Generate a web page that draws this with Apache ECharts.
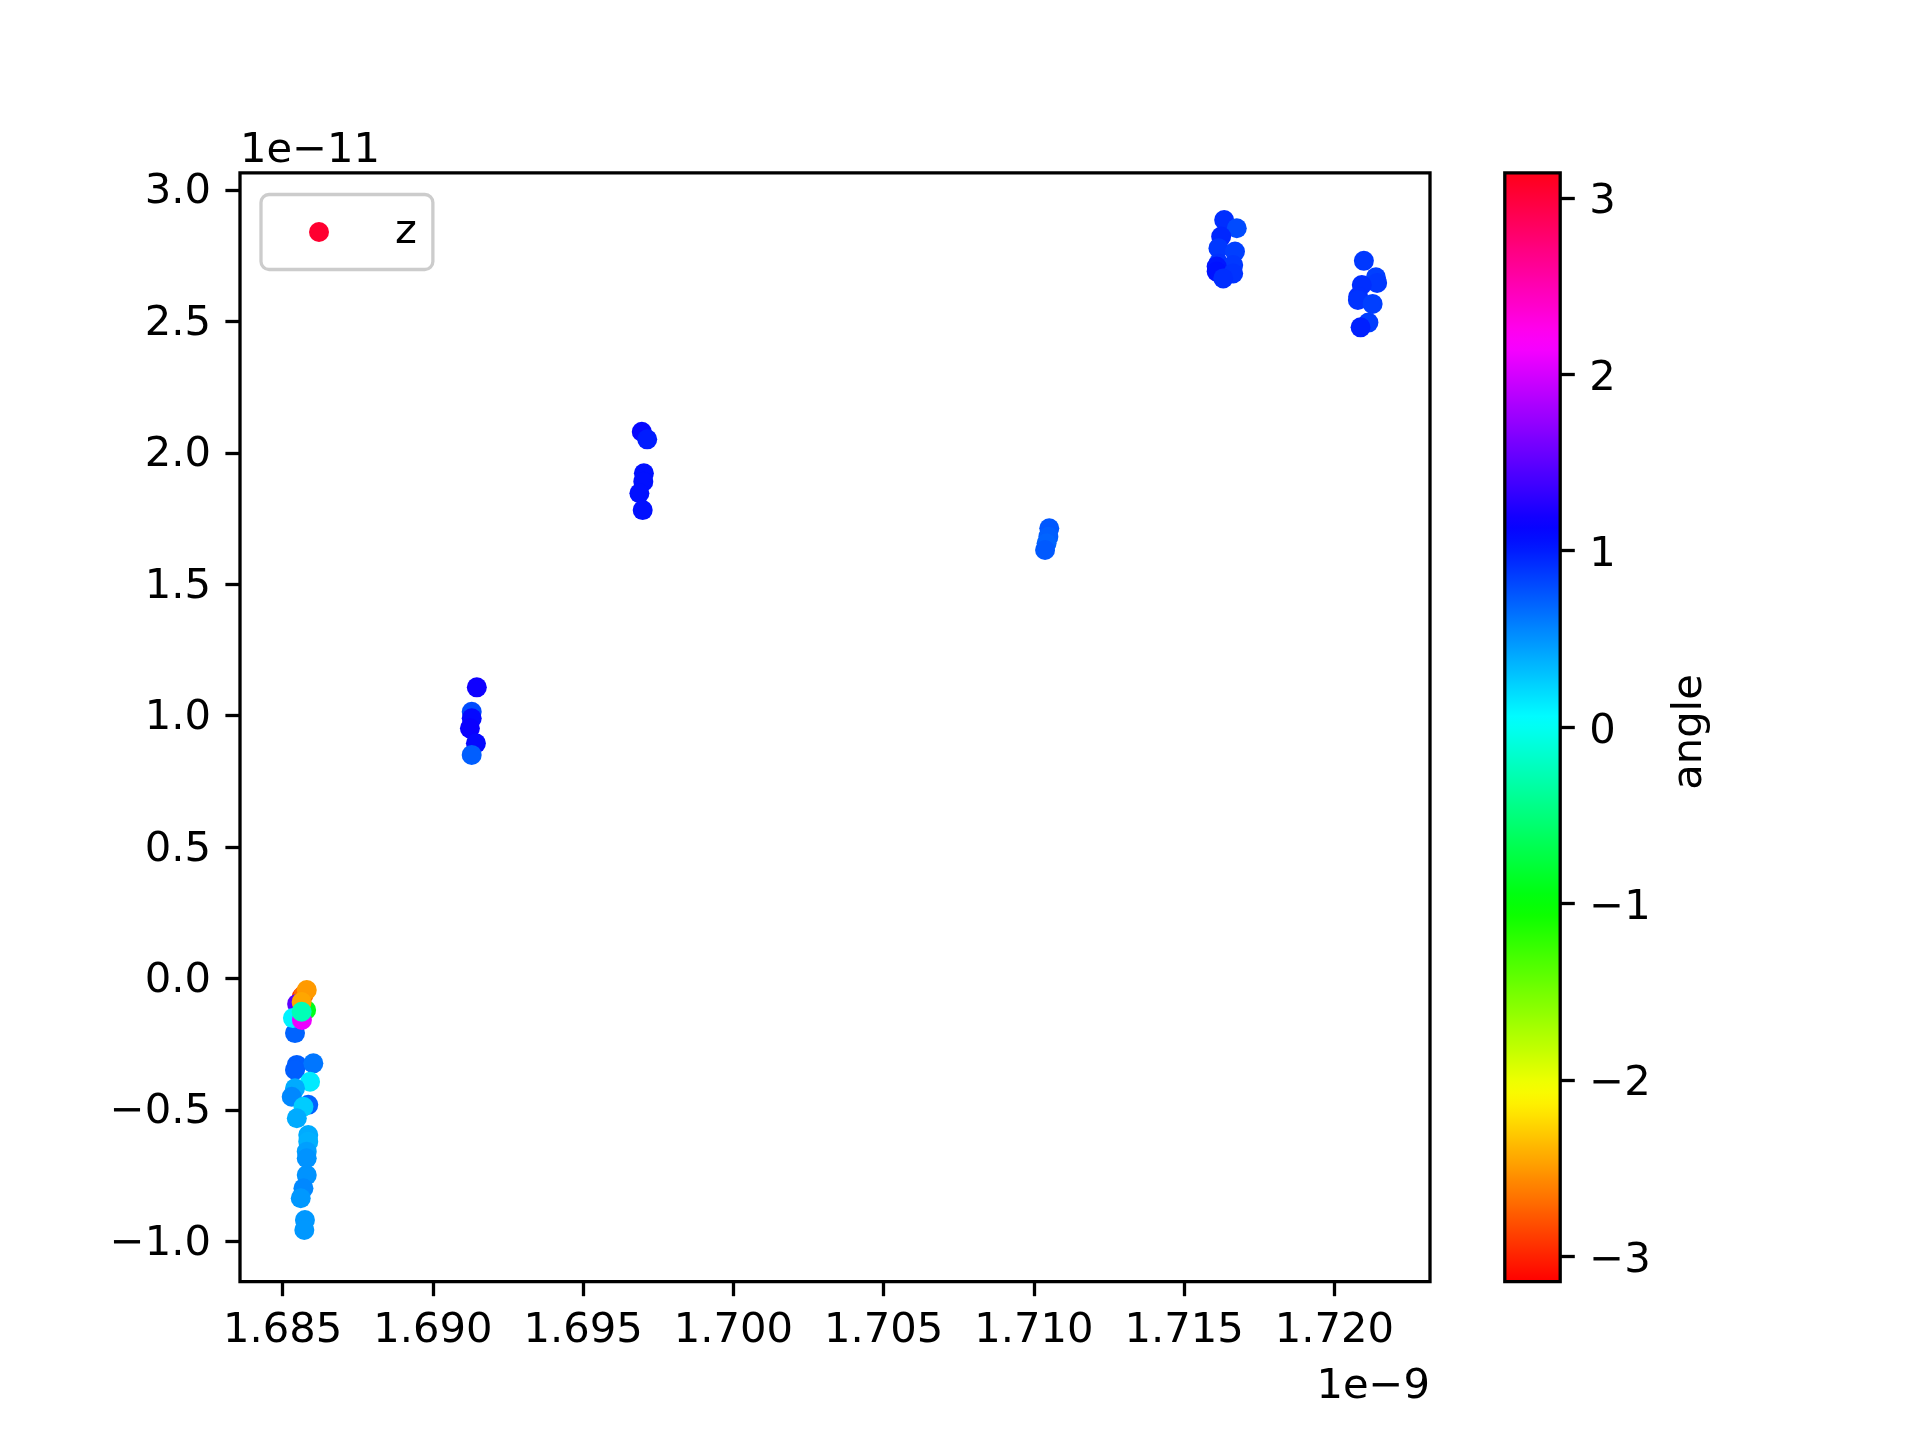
<!DOCTYPE html>
<html>
<head>
<meta charset="utf-8">
<script src="https://cdn.jsdelivr.net/npm/echarts/dist/echarts.min.js"></script>
<style>
  html, body { margin: 0; padding: 0; background: #fff; }
  #chart { width: 1920px; height: 1440px; }
</style>
</head>
<body>
<div id="chart"></div>
<script>
// x in units of 1e-9, y in units of 1e-11, angle in radians
const xValues = [
  1.68541, 1.68563, 1.68569, 1.68548, 1.68534, 1.68578, 1.68580, 1.68563, 1.68564, 1.68563,
  1.68547, 1.68541, 1.68602, 1.68591, 1.68541, 1.68530, 1.68585, 1.68569, 1.68547, 1.68585,
  1.68585, 1.68580, 1.68580, 1.68580, 1.68569, 1.68560, 1.68574, 1.68572,
  1.69146, 1.69129, 1.69129, 1.69123, 1.69143, 1.69129,
  1.69695, 1.69713, 1.69702, 1.69700, 1.69687, 1.69698,
  1.71051, 1.71048, 1.71042, 1.71037,
  1.71633, 1.71675, 1.71623, 1.71614, 1.71669, 1.71614, 1.71663, 1.71608, 1.71608, 1.71663, 1.71630,
  1.72098, 1.72138, 1.72142, 1.72091, 1.72079, 1.72078, 1.72127, 1.72113, 1.72087
]
const yValues = [
  -0.207, -0.070, -0.062, -0.096, -0.150, -0.119, -0.043, -0.089, -0.157, -0.126,
  -0.328, -0.347, -0.322, -0.392, -0.417, -0.449, -0.480, -0.487, -0.531, -0.595,
  -0.620, -0.658, -0.683, -0.747, -0.797, -0.835, -0.918, -0.956,
  1.108, 1.015, 0.990, 0.952, 0.895, 0.851,
  2.080, 2.051, 1.922, 1.890, 1.846, 1.782,
  1.713, 1.681, 1.656, 1.630,
  2.885, 2.854, 2.822, 2.778, 2.765, 2.720, 2.714, 2.708, 2.689, 2.682, 2.663,
  2.730, 2.667, 2.646, 2.638, 2.593, 2.581, 2.566, 2.495, 2.477
]
const angleValues = [
  0.70, -2.95, -2.70, 1.50, 0.10, -0.90, -2.50, -2.45, 2.10, -0.25,
  0.72, 0.72, 0.62, 0.14, 0.40, 0.55, 0.70, 0.26, 0.40, 0.40,
  0.38, 0.45, 0.50, 0.50, 0.55, 0.48, 0.48, 0.48,
  1.18, 0.80, 1.10, 1.15, 1.10, 0.72,
  1.10, 1.00, 1.05, 1.05, 1.05, 1.05,
  0.75, 0.72, 0.70, 0.74,
  0.92, 0.80, 0.95, 0.88, 0.85, 0.90, 0.88, 1.02, 1.04, 0.90, 0.92,
  0.88, 0.85, 0.88, 0.92, 0.92, 0.90, 0.85, 0.86, 0.98
]
const xTicks = [1.685, 1.690, 1.695, 1.700, 1.705, 1.710, 1.715, 1.720]
const yTicks = [-1.0, -0.5, 0.0, 0.5, 1.0, 1.5, 2.0, 2.5, 3.0]
const cbarTicks = [-3, -2, -1, 0, 1, 2, 3]

const FONT = 'DejaVu Sans'
const FS = 41.7
const minus = s => s.replace('-', '\u2212')

// matplotlib 'hsv' colormap segments, sampled into an even colour list
const hsvSeg = {
    r: [[0, 1], [0.158730, 1], [0.174603, 0.96875], [0.333333, 0.03125], [0.349206, 0], [0.666667, 0], [0.682540, 0.03125], [0.841270, 0.96875], [0.857143, 1], [1, 1]],
    g: [[0, 0], [0.158730, 0.9375], [0.174603, 1], [0.507937, 1], [0.666667, 0.0625], [0.682540, 0], [1, 0]],
    b: [[0, 0], [0.333333, 0], [0.349206, 0.0625], [0.507937, 1], [0.841270, 1], [0.857143, 0.9375], [1, 0.09375]]
}
function segAt (seg, t) {
    for (let i = 1; i < seg.length; i++) {
        if (t <= seg[i][0]) {
            const [t0, v0] = seg[i - 1]
            const [t1, v1] = seg[i]
            return v0 + (v1 - v0) * (t - t0) / (t1 - t0)
        }
    }
    return seg[seg.length - 1][1]
}
const hsvColors = []
for (let i = 0; i <= 256; i++) {
    const t = i / 256
    const c = ['r', 'g', 'b'].map(k => Math.round(segAt(hsvSeg[k], t) * 255))
    hsvColors.push('rgb(' + c.join(',') + ')')
}

const points = xValues.map((x, i) => [x, yValues[i], angleValues[i]])

const chart = echarts.init(document.getElementById('chart'))
const tickStyle = { color: '#000', width: 3.3 }
const labelStyle = { fontFamily: FONT, fontSize: FS, color: '#000' }
// nudge vertical-axis labels down a little so digits sit centred on their ticks
const richShift = p => ({ t: { fontFamily: FONT, fontSize: FS, color: '#000', padding: [p, 0, 0, 0] } })

const option = {
    animation: false,
    backgroundColor: '#fff',
    grid: [
        { left: 240, top: 172.8, width: 1190, height: 1108.8, show: true, borderColor: '#000', borderWidth: 3.3, backgroundColor: 'transparent', z: 0 },
        { left: 1504.8, top: 172.8, width: 55.4, height: 1108.8, show: true, borderColor: '#000', borderWidth: 3.3, backgroundColor: 'transparent', z: 10 }
    ],
    xAxis: [
        {
            type: 'value', gridIndex: 0, min: 1.683579, max: 1.723180, position: 'bottom',
            axisLine: { show: false, onZero: false },
            splitLine: { show: false },
            axisTick: { show: true, length: 14.6, lineStyle: tickStyle, customValues: xTicks },
            axisLabel: { ...labelStyle, margin: 29, customValues: xTicks, formatter: v => v.toFixed(3) }
        },
        { type: 'value', gridIndex: 1, min: 0, max: 1, show: false }
    ],
    yAxis: [
        {
            type: 'value', gridIndex: 0, min: -1.1521, max: 3.0647, position: 'left',
            axisLine: { show: false, onZero: false },
            splitLine: { show: false },
            axisTick: { show: true, length: 14.6, lineStyle: tickStyle, customValues: yTicks },
            axisLabel: { ...labelStyle, margin: 29, customValues: yTicks, rich: richShift(5), formatter: v => '{t|' + minus(v.toFixed(1)) + '}' }
        },
        {
            type: 'value', gridIndex: 1, position: 'right', min: -Math.PI, max: Math.PI, z: 10,
            axisLine: { show: false, onZero: false },
            splitLine: { show: false },
            axisTick: { show: true, length: 14.6, lineStyle: tickStyle, customValues: cbarTicks },
            axisLabel: { ...labelStyle, margin: 29, customValues: cbarTicks, rich: richShift(9), formatter: v => '{t|' + minus(String(Math.round(v))) + '}' }
        }
    ],
    visualMap: {
        type: 'continuous',
        min: -Math.PI,
        max: Math.PI,
        dimension: 2,
        seriesIndex: 0,
        inRange: { color: hsvColors },
        left: 1504.8,
        top: 172.8,
        itemWidth: 55.4,
        itemHeight: 1108.8,
        padding: 0,
        calculable: false,
        hoverLink: false,
        showLabel: false,
        z: 1
    },
    legend: {
        data: [{ name: 'z', icon: 'circle', itemStyle: { color: '#ff0030', opacity: 1 } }],
        left: 261,
        top: 194.5,
        orient: 'vertical',
        itemWidth: 20,
        itemHeight: 20,
        padding: [16.5, 16, 16.5, 48],
        borderColor: '#cccccc',
        borderWidth: 3.3,
        borderRadius: 8,
        backgroundColor: 'rgba(255,255,255,0.8)',
        selectedMode: false,
        textStyle: { ...labelStyle, padding: [0, 0, 0, 61] }
    },
    graphic: [
        { type: 'text', x: 240, y: 151, style: { text: '1e\u221211', font: FS + 'px "' + FONT + '"', fill: '#000', textAlign: 'left', textVerticalAlign: 'middle' } },
        { type: 'text', x: 1430, y: 1387, style: { text: '1e\u22129', font: FS + 'px "' + FONT + '"', fill: '#000', textAlign: 'right', textVerticalAlign: 'middle' } },
        { type: 'text', x: 1690, y: 732, rotation: Math.PI / 2, style: { text: 'angle', font: FS + 'px "' + FONT + '"', fill: '#000', textAlign: 'center', textVerticalAlign: 'middle' } }
    ],
    series: [
        {
            name: 'z',
            type: 'scatter',
            xAxisIndex: 0,
            yAxisIndex: 0,
            symbolSize: 20,
            itemStyle: { opacity: 1 },
            data: points
        }
    ]
}
chart.setOption(option)
</script>
</body>
</html>
